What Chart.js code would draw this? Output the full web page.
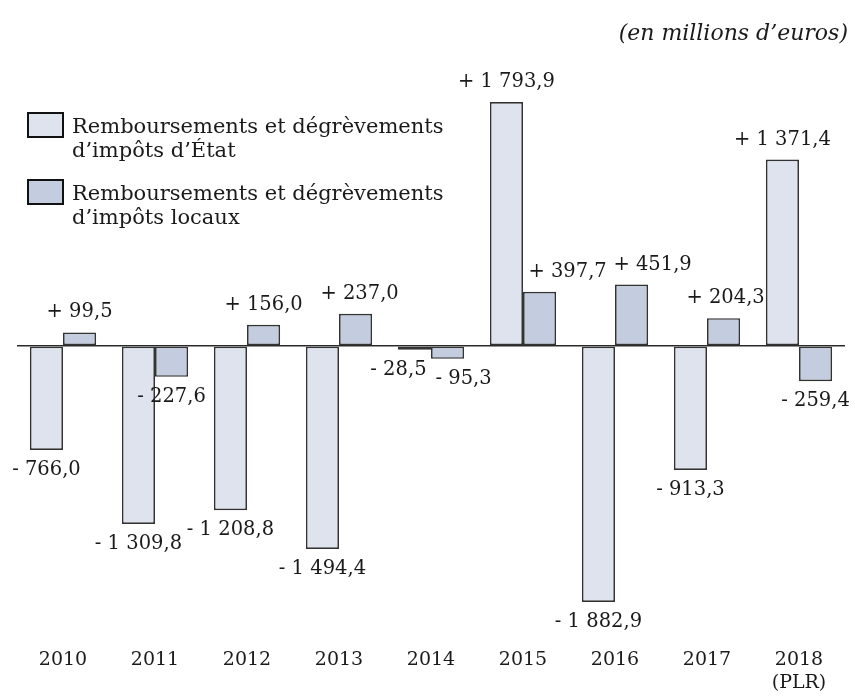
<!DOCTYPE html>
<html lang="fr">
<head>
<meta charset="utf-8">
<title>Remboursements et dégrèvements</title>
<script src="https://cdn.jsdelivr.net/npm/chart.js@4"></script>
<style>
  body { margin: 0; background: #fff; }
  #wrap { position: relative; width: 855px; height: 696px; font-family: "DejaVu Serif", serif; color: #1a1a1a; }
  #unit { position: absolute; right: 7px; top: 20px; font-size: 22px; line-height: 26px; font-style: italic; }
  .leg { position: absolute; left: 27px; font-size: 21px; line-height: 24px; }
  .leg i { position: absolute; left: 0; top: 0; width: 33px; height: 22px; border: 2px solid #111; }
  .leg span { position: absolute; left: 45px; top: 2px; white-space: nowrap; }
</style>
</head>
<body>
<div id="wrap">
  <canvas id="chart"></canvas>
  <div id="unit">(en millions d’euros)</div>
  <div class="leg" style="top:112px"><i style="background:#dee3ee"></i><span>Remboursements et dégrèvements<br>d’impôts d’État</span></div>
  <div class="leg" style="top:179px"><i style="background:#c3cddf"></i><span>Remboursements et dégrèvements<br>d’impôts locaux</span></div>
</div>
<script>
const years = ['2010', '2011', '2012', '2013', '2014', '2015', '2016', '2017', ['2018', '(PLR)']];
const etat = [-766.0, -1309.8, -1208.8, -1494.4, -28.5, 1793.9, -1882.9, -913.3, 1371.4];
const locaux = [99.5, -227.6, 156.0, 237.0, -95.3, 397.7, 451.9, 204.3, -259.4];

// horizontal nudges for value labels that would collide
const shiftEtat = [0, 0, 0, 0, -16, 0, 0, 0, 0];
const shiftLocaux = [0, 0, 0, 4, 16, 28, 21, 2, 0];

function fmt(v) {
  const parts = Math.abs(v).toFixed(1).split('.');
  const ent = parts[0].replace(/\B(?=(\d{3})+(?!\d))/g, ' ');
  return (v < 0 ? '- ' : '+ ') + ent + ',' + parts[1];
}

const valueLabels = {
  id: 'valueLabels',
  afterDatasetsDraw(chart) {
    const ctx = chart.ctx;
    ctx.save();
    ctx.font = '19.5px "DejaVu Serif"';
    ctx.fillStyle = '#1a1a1a';
    ctx.textAlign = 'center';
    ctx.textBaseline = 'middle';
    chart.data.datasets.forEach((ds, i) => {
      const shifts = i === 0 ? shiftEtat : shiftLocaux;
      chart.getDatasetMeta(i).data.forEach((bar, j) => {
        const v = ds.data[j];
        const y = v >= 0 ? bar.y - 20 : bar.y + 20;
        ctx.fillText(fmt(v), bar.x + shifts[j], y);
      });
    });
    ctx.restore();
  }
};

new Chart(document.getElementById('chart'), {
  type: 'bar',
  data: {
    labels: years,
    datasets: [{
      label: 'Remboursements et dégrèvements d’impôts d’État',
      data: etat,
      backgroundColor: '#dee3ee',
      borderColor: '#333',
      borderWidth: 1.7,
      borderSkipped: false
    }, {
      label: 'Remboursements et dégrèvements d’impôts locaux',
      data: locaux,
      backgroundColor: '#c3cddf',
      borderColor: '#333',
      borderWidth: 1.7,
      borderSkipped: false
    }]
  },
  options: {
    responsive: true,
    maintainAspectRatio: false,
    animation: false,
    layout: { padding: { left: 17, right: 10, top: 74, bottom: 0 } },
    plugins: { legend: { display: false }, tooltip: { enabled: false } },
    datasets: { bar: { barPercentage: 1, categoryPercentage: 0.72 } },
    scales: {
      x: {
        grid: { display: false, drawTicks: false },
        border: { display: false },
        ticks: {
          color: '#1a1a1a',
          font: { family: 'DejaVu Serif', size: 19 },
          padding: 4,
          maxRotation: 0,
          autoSkip: false
        },
        afterFit(scale) { scale.height = 51; }
      },
      y: {
        min: -2200,
        max: 2000,
        ticks: { display: false, stepSize: 200 },
        border: { display: false },
        grid: {
          drawTicks: false,
          lineWidth: 1.5,
          color: (c) => c.tick && c.tick.value === 0 ? '#2a2a2a' : 'rgba(0,0,0,0)'
        },
        afterFit(scale) { scale.width = 0; }
      }
    }
  },
  plugins: [valueLabels]
});
</script>
</body>
</html>
